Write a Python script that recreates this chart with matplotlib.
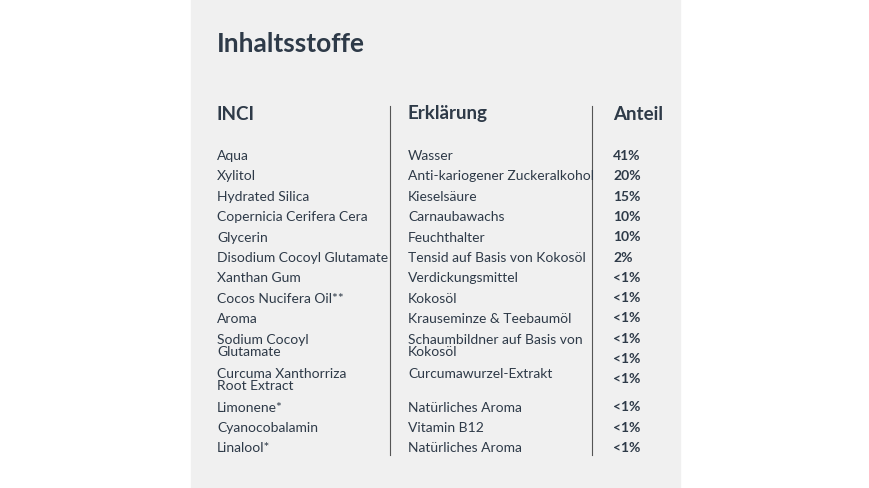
import matplotlib.pyplot as plt
from matplotlib.patches import Rectangle

title = "Inhaltsstoffe"
headers = ["INCI", "Erklärung", "Anteil"]
inci = ["Aqua", "Xylitol", "Hydrated Silica", "Copernicia Cerifera Cera", "Glycerin",
        "Disodium Cocoyl Glutamate", "Xanthan Gum", "Cocos Nucifera Oil**", "Aroma",
        "Sodium Cocoyl\nGlutamate", "Curcuma Xanthorriza\nRoot Extract", "Limonene*",
        "Cyanocobalamin", "Linalool*"]
erklaerung = ["Wasser", "Anti-kariogener Zuckeralkohol", "Kieselsäure", "Carnaubawachs",
              "Feuchthalter", "Tensid auf Basis von Kokosöl", "Verdickungsmittel", "Kokosöl",
              "Krauseminze & Teebaumöl", "Schaumbildner auf Basis von\nKokosöl",
              "Curcumawurzel-Extrakt", "Natürliches Aroma", "Vitamin B12", "Natürliches Aroma"]
anteil = ["41%", "20%", "15%", "10%", "10%", "2%", "<1%", "<1%", "<1%", "<1%", "<1%",
          "<1%", "<1%", "<1%", "<1%"]

TXT = "#2e3a48"
plt.rcParams["font.family"] = ["Lato", "DejaVu Sans"]

fig = plt.figure(figsize=(8.7, 4.89), dpi=100)
ax = fig.add_axes([0, 0, 1, 1])
ax.set_xlim(0, 870)
ax.set_ylim(489, 0)
ax.axis("off")

ax.add_patch(Rectangle((191, 0), 489, 489, color="#f0f0f0", zorder=0))
ax.text(217, 44, title, fontsize=19, fontweight="bold", color=TXT, va="center")

cols = [217, 408, 613]
for x, h in zip(cols, headers):
    ax.text(x, 114, h, fontsize=13.5, fontweight="bold", color=TXT, va="center")
for x in (390, 592):
    ax.plot([x, x], [107, 456], color="#555555", lw=0.8)

# row layout: two-line rows take extra space
y = 156
row_y = []
for name in inci:
    row_y.append(y)
    y += 20.4 if "\n" not in name else 34
for yy, a, b in zip(row_y, inci, erklaerung):
    ax.text(cols[0], yy - 6, a, fontsize=10, color=TXT, va="top", linespacing=1.05)
    ax.text(cols[1], yy - 6, b, fontsize=10, color=TXT, va="top", linespacing=1.05)

# Anteil column is evenly spaced apart from the gap before Limonene
ay = []
y = 156
for i in range(len(anteil)):
    ay.append(y)
    y += 20.3 if i != 11 else 28
for yy, t in zip(ay, anteil):
    ax.text(cols[2], yy, t, fontsize=10, fontweight="bold", color=TXT, va="center")

fig.savefig("out.png", dpi=100, facecolor="white")
